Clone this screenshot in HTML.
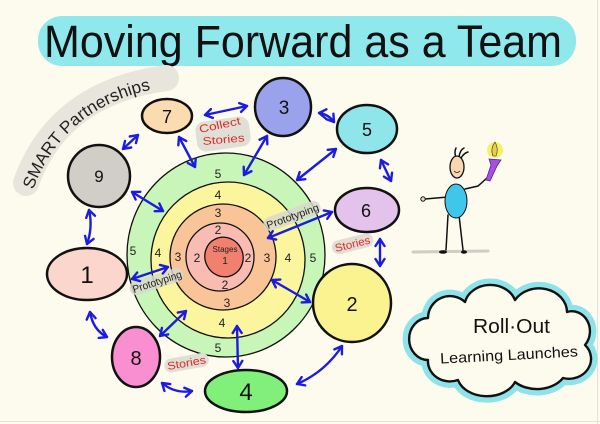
<!DOCTYPE html>
<html><head><meta charset="utf-8"><style>
html,body{margin:0;padding:0;background:#fdfbee;}
svg{display:block;}
text{font-family:"Liberation Sans",sans-serif;}
</style></head><body>
<svg width="600" height="424" viewBox="0 0 600 424" xmlns="http://www.w3.org/2000/svg">
<defs>
<marker id="ah" markerUnits="userSpaceOnUse" markerWidth="12" markerHeight="12" refX="9" refY="6" orient="auto-start-reverse">
<path d="M2,1.5 L9,6 L2,10.5" fill="none" stroke="#1c1ce0" stroke-width="2.4" stroke-linecap="round" stroke-linejoin="round"/>
</marker>
</defs>
<rect x="0" y="0" width="600" height="424" fill="#fdfbee"/>
<line x1="597.5" y1="0" x2="597.5" y2="424" stroke="#e4e2d8" stroke-width="1"/>
<line x1="0" y1="421.5" x2="600" y2="421.5" stroke="#e4e2d8" stroke-width="1"/>

<!-- Title -->
<rect x="38" y="16" width="538" height="50" rx="24" fill="#8ee8ec"/>
<text x="44" y="57" font-size="45" textLength="518" lengthAdjust="spacingAndGlyphs" fill="#111">Moving Forward as a Team</text>

<!-- SMART Partnerships arc -->
<path d="M26,183 Q58,93 166,78" fill="none" stroke="#e8e6dc" stroke-width="26" stroke-linecap="round"/>
<path id="arcp" d="M33,190 Q66,100 172,86" fill="none"/>
<text font-size="17" fill="#222"><textPath href="#arcp" textLength="162" lengthAdjust="spacingAndGlyphs">SMART Partnerships</textPath></text>

<!-- Concentric rings -->
<ellipse cx="226" cy="255" rx="99" ry="102" fill="#c8f5b8" stroke="#111" stroke-width="1.3"/>
<ellipse cx="228" cy="260" rx="77" ry="78" fill="#fbf59e" stroke="#111" stroke-width="1.3"/>
<circle cx="223" cy="257" r="53" fill="#f9c497" stroke="#111" stroke-width="1.3"/>
<circle cx="220" cy="257" r="34" fill="#f8bcb2" stroke="#111" stroke-width="1.3"/>
<ellipse cx="224" cy="257" rx="19" ry="20" transform="rotate(-25 224 257)" fill="#f2806f" stroke="#111" stroke-width="1.3"/>

<g font-size="12" fill="#222" text-anchor="middle">
<text x="218" y="178">5</text>
<text x="218" y="199">4</text>
<text x="218" y="217">3</text>
<text x="218" y="234">2</text>
<text x="218" y="352">5</text>
<text x="222" y="327">4</text>
<text x="227" y="307">3</text>
<text x="225" y="289">2</text>
<text x="133" y="255">5</text>
<text x="158" y="257">4</text>
<text x="178" y="261">3</text>
<text x="197" y="262">2</text>
<text x="248" y="262">2</text>
<text x="267" y="262">3</text>
<text x="288" y="262">4</text>
<text x="313" y="262">5</text>
<text x="225" y="252" font-size="8">Stages</text>
<text x="225" y="264" font-size="10">1</text>
</g>

<!-- Nodes -->
<ellipse cx="167" cy="116" rx="25" ry="17" fill="#fbdcb0" stroke="#111" stroke-width="2.5"/>
<text x="167" y="123" font-size="18" text-anchor="middle" fill="#111">7</text>
<ellipse cx="283" cy="107" rx="28" ry="29" fill="#9aa2ec" stroke="#111" stroke-width="2.5"/>
<text x="284" y="114" font-size="19" text-anchor="middle" fill="#111">3</text>
<circle cx="99" cy="176" r="31" fill="#d0cec6" stroke="#111" stroke-width="2.5"/>
<text x="99" y="182" font-size="17" text-anchor="middle" fill="#111">9</text>
<ellipse cx="367" cy="129" rx="30" ry="24" fill="#8ee6ea" stroke="#111" stroke-width="2.5"/>
<text x="367" y="136" font-size="18" text-anchor="middle" fill="#111">5</text>
<ellipse cx="367" cy="210" rx="32" ry="22" fill="#e3c2ec" stroke="#111" stroke-width="2.5"/>
<text x="366" y="217" font-size="18" text-anchor="middle" fill="#111">6</text>
<circle cx="352" cy="303" r="39" fill="#fbf290" stroke="#111" stroke-width="2.5"/>
<text x="352" y="311" font-size="20" text-anchor="middle" fill="#111">2</text>
<ellipse cx="87" cy="274" rx="40" ry="26" fill="#fbd6cc" stroke="#111" stroke-width="2.5"/>
<text x="87" y="283" font-size="24" text-anchor="middle" fill="#111">1</text>
<ellipse cx="136" cy="357" rx="24" ry="30" fill="#f98fd0" stroke="#111" stroke-width="2.5"/>
<text x="136" y="365" font-size="20" text-anchor="middle" fill="#111">8</text>
<ellipse cx="246" cy="391" rx="41" ry="21" fill="#80f07a" stroke="#111" stroke-width="2.5"/>
<text x="246" y="400" font-size="24" text-anchor="middle" fill="#111">4</text>

<!-- Labels with gray backing -->
<g transform="rotate(-20 268 229)">
<rect x="265" y="218" width="60" height="14" rx="7" fill="#d8d8cc" opacity="0.85"/>
<text x="268" y="229" font-size="10.5" fill="#222" textLength="55" lengthAdjust="spacingAndGlyphs">Prototyping</text>
</g>
<g transform="rotate(-18 134 293)">
<rect x="131" y="282" width="56" height="14" rx="7" fill="#d8d8cc" opacity="0.85"/>
<text x="134" y="293" font-size="10.5" fill="#222" textLength="51" lengthAdjust="spacingAndGlyphs">Prototyping</text>
</g>
<g transform="rotate(-14 336 252)">
<rect x="333" y="241" width="42" height="14" rx="7" fill="#e0dfd6"/>
<text x="336" y="252" font-size="11" fill="#e02828" textLength="36" lengthAdjust="spacingAndGlyphs">Stories</text>
</g>
<g transform="rotate(-10 168 370)">
<rect x="165" y="359" width="45" height="14" rx="7" fill="#e0dfd6"/>
<text x="168" y="370" font-size="11" fill="#e02828" textLength="39" lengthAdjust="spacingAndGlyphs">Stories</text>
</g>
<rect x="196" y="119" width="54" height="30" rx="9" fill="#e0dfd6" transform="rotate(-8 223 134)"/>
<text x="200" y="133" font-size="11" fill="#e02828" textLength="42" lengthAdjust="spacingAndGlyphs" transform="rotate(-12 200 133)">Collect</text>
<text x="203" y="145" font-size="11" fill="#e02828" textLength="42" lengthAdjust="spacingAndGlyphs" transform="rotate(-5 203 145)">Stories</text>

<!-- Arrows -->
<g fill="none" stroke="#1c1ce0" stroke-width="2.4" stroke-linecap="round" marker-start="url(#ah)" marker-end="url(#ah)">
<path d="M205,115 L247,106"/>
<path d="M123,149 L138,135"/>
<path d="M179,137 L195,167"/>
<path d="M267,136 L244,175"/>
<path d="M132,192 L163,211"/>
<path d="M89,210 Q93,227 87,244"/>
<path d="M319,113 Q328,114 334,122"/>
<path d="M297,180 L336,149"/>
<path d="M268,238 L332,212"/>
<path d="M381,160 L391,181"/>
<path d="M380,239 L380,266"/>
<path d="M272,280 L310,302"/>
<path d="M342,346 Q325,372 297,384"/>
<path d="M237,326 L238,368"/>
<path d="M160,336 L186,311"/>
<path d="M162,383 Q175,394 192,391"/>
<path d="M132,279 L168,267"/>
<path d="M90,312 Q93,330 107,337"/>
</g>

<!-- Person -->
<line x1="413" y1="252" x2="488" y2="251" stroke="#cfcdc4" stroke-width="3" stroke-linecap="round"/>
<g stroke="#111" stroke-width="1.5" fill="none" stroke-linecap="round">
<path d="M448,215 L446,250"/>
<path d="M459,215 L463,250"/>
<path d="M448,197 L425,199"/>
<path d="M465,189 L478,186 L487,178"/>
<path d="M456,158 Q454,152 456,148"/>
<path d="M459,157 Q460,150 464,148"/>
<path d="M461,158 Q464,153 468,152"/>
</g>
<ellipse cx="443" cy="252" rx="4" ry="1.8" fill="#111"/>
<ellipse cx="464" cy="252" rx="3" ry="1.8" fill="#111"/>
<circle cx="423" cy="199" r="2.2" fill="#f8d6b0" stroke="#111" stroke-width="1"/>
<ellipse cx="456" cy="201" rx="11" ry="17" fill="#3fc6ea" stroke="#111" stroke-width="1"/>
<ellipse cx="457" cy="167" rx="7" ry="11" fill="#f8d6b0" stroke="#111" stroke-width="1.3"/>
<path d="M454,171 Q457,174 460,171" fill="none" stroke="#111" stroke-width="0.8"/>
<circle cx="495" cy="150" r="8" fill="#f6f070"/>
<path d="M493,156 Q490,149 495,142 Q499,149 496,156 Z" fill="#e8d040" stroke="#333" stroke-width="0.6"/>
<path d="M489,159 L501,160 L497,166 L490,181 L486,180 L491,165 Z" fill="#a550e0" stroke="#5a2090" stroke-width="0.8"/>

<!-- Cloud -->
<path d="M428,318 A22,22 0 0 1 465,302 A26,22 0 0 1 515,300 A28,24 0 0 1 567,312 A18,20 0 0 1 585,345 A22,20 0 0 1 563,378 A30,22 0 0 1 515,382 A30,22 0 0 1 458,380 A22,20 0 0 1 428,360 A18,20 0 0 1 428,318 Z" fill="none" stroke="#8ee2ea" stroke-width="13" stroke-linejoin="round"/>
<path d="M428,318 A22,22 0 0 1 465,302 A26,22 0 0 1 515,300 A28,24 0 0 1 567,312 A18,20 0 0 1 585,345 A22,20 0 0 1 563,378 A30,22 0 0 1 515,382 A30,22 0 0 1 458,380 A22,20 0 0 1 428,360 A18,20 0 0 1 428,318 Z" fill="#fdfbee" stroke="#111" stroke-width="2.4" stroke-linejoin="round"/>
<text x="473" y="333" font-size="20" fill="#111" textLength="77" lengthAdjust="spacingAndGlyphs">Roll·Out</text>
<text x="440" y="360" font-size="15" fill="#111" textLength="138" lengthAdjust="spacingAndGlyphs" transform="rotate(-3 509 355)">Learning  Launches</text>
</svg>
</body></html>
